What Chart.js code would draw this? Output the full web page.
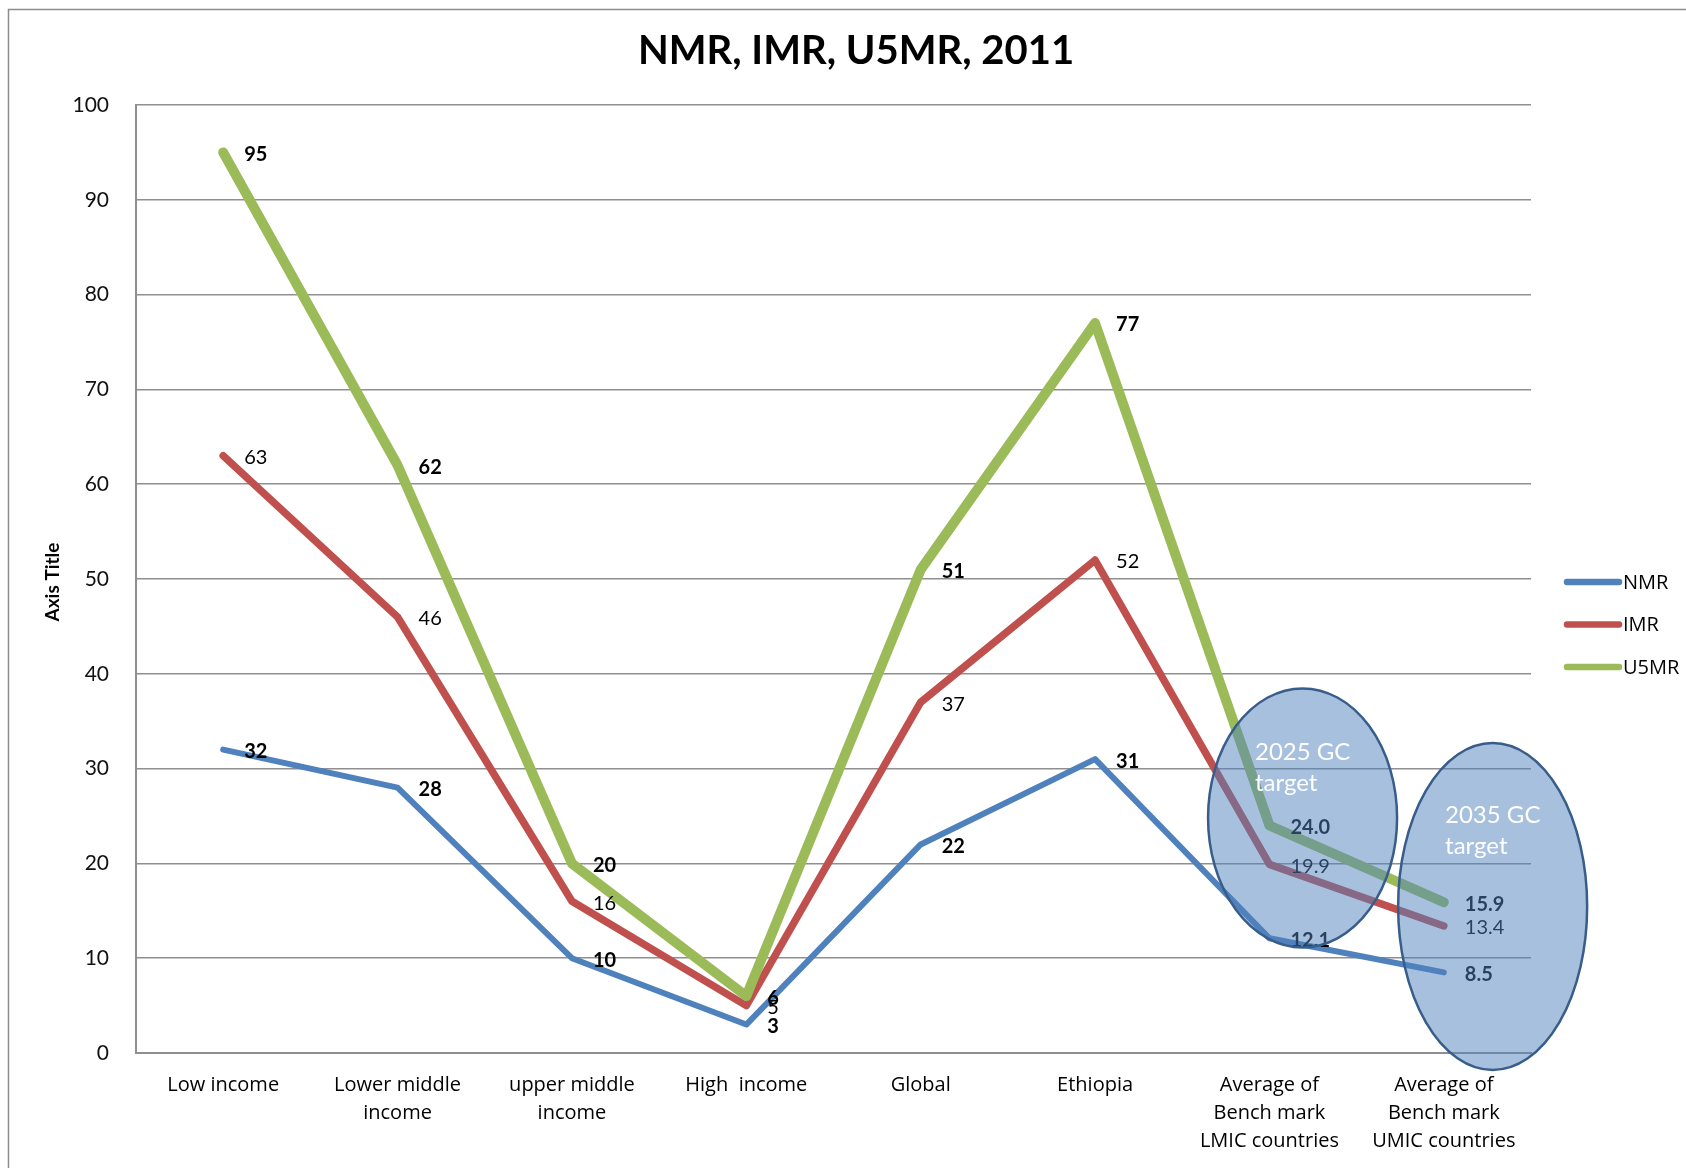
<!DOCTYPE html>
<html>
<head>
<meta charset="utf-8">
<title>NMR, IMR, U5MR, 2011</title>
<script src="https://cdn.jsdelivr.net/npm/chart.js@4.4.1/dist/chart.umd.min.js"></script>
<style>
    html, body { margin: 0; padding: 0; background: #fff; }
    #wrap { width: 1686px; height: 1168px; }
</style>
</head>
<body>
<div id="wrap"><canvas id="mortalityChart" width="1686" height="1168"></canvas></div>
<script>
// Categorías del eje X
const categories = [
    'Low income',
    ['Lower middle', 'income'],
    ['upper middle', 'income'],
    'High  income',
    'Global',
    'Ethiopia',
    ['Average of', 'Bench mark', 'LMIC countries'],
    ['Average of', 'Bench mark', 'UMIC countries']
];

// Series
const nmrData = [32, 28, 10, 3, 22, 31, 12.1, 8.5];
const imrData = [63, 46, 16, 5, 37, 52, 19.9, 13.4];
const u5mrData = [95, 62, 20, 6, 51, 77, 24.0, 15.9];

// Decimales de las etiquetas por categoría
const labelDecimals = [0, 0, 0, 0, 0, 0, 1, 1];

// Eje Y
const yMin = 0;
const yMax = 100;
const yStep = 10;

// Metas (elipses), en unidades de los ejes
const targetNotes = [
    { text: ['2025 GC', 'target'], cx: 6.19, cy: 24.8, rx: 0.542, ry: 13.66, tx: 5.917, ty: 31.75 },
    { text: ['2035 GC', 'target'], cx: 7.28, cy: 15.45, rx: 0.542, ry: 17.25, tx: 7.007, ty: 25.1 }
];

const gridColor = '#8f8f8f';

// Plugin para título, etiquetas, elipses y leyenda
const decoracion = {
    id: 'decoracion',
    beforeDraw(chart) {
        const ctx = chart.ctx;
        ctx.save();
        ctx.strokeStyle = '#8c8c8c';
        ctx.lineWidth = 1.5;
        ctx.strokeRect(8.5, 9.5, 1720, 1200);
        ctx.restore();
    },
    afterDatasetsDraw(chart) {
        const ctx = chart.ctx;
        const xs = chart.scales.x;
        const ys = chart.scales.y;

        // Etiquetas de datos
        chart.data.datasets.forEach((ds, di) => {
            const meta = chart.getDatasetMeta(di);
            ctx.save();
            ctx.font = (ds.labelBold ? 'bold ' : '') + '20px Lato';
            ctx.fillStyle = '#000';
            ctx.textAlign = 'left';
            ctx.textBaseline = 'middle';
            meta.data.forEach((pt, i) => {
                ctx.fillText(ds.data[i].toFixed(labelDecimals[i]), pt.x + 21, pt.y + 2);
            });
            ctx.restore();
        });

        // Elipses de metas
        const catW = xs.getPixelForValue(1) - xs.getPixelForValue(0);
        const unitH = ys.getPixelForValue(0) - ys.getPixelForValue(1);
        targetNotes.forEach(t => {
            ctx.save();
            ctx.beginPath();
            ctx.ellipse(xs.getPixelForValue(t.cx), ys.getPixelForValue(t.cy), t.rx * catW, t.ry * unitH, 0, 0, Math.PI * 2);
            ctx.fillStyle = 'rgba(79, 129, 189, 0.5)';
            ctx.fill();
            ctx.lineWidth = 2.5;
            ctx.strokeStyle = '#385d8a';
            ctx.stroke();
            ctx.font = '24px Lato';
            ctx.fillStyle = '#fff';
            ctx.textAlign = 'left';
            ctx.textBaseline = 'middle';
            t.text.forEach((line, k) => {
                ctx.fillText(line, xs.getPixelForValue(t.tx), ys.getPixelForValue(t.ty) + k * 31);
            });
            ctx.restore();
        });
    },
    afterDraw(chart) {
        const ctx = chart.ctx;
        const area = chart.chartArea;

        // Título
        ctx.save();
        ctx.font = 'bold 40px Lato';
        ctx.fillStyle = '#000';
        ctx.textAlign = 'center';
        ctx.textBaseline = 'middle';
        ctx.fillText('NMR, IMR, U5MR, 2011', 856, 51);
        ctx.restore();

        // Título del eje
        ctx.save();
        ctx.translate(53, 582);
        ctx.rotate(-Math.PI / 2);
        ctx.font = 'bold 19px Lato';
        ctx.fillStyle = '#000';
        ctx.textAlign = 'center';
        ctx.textBaseline = 'middle';
        ctx.fillText('Axis Title', 0, 0);
        ctx.restore();

        // Leyenda
        chart.data.datasets.forEach((ds, i) => {
            const ly = 582 + i * 42.5;
            const lx = area.right + 36;
            ctx.save();
            ctx.strokeStyle = ds.borderColor;
            ctx.lineWidth = 6.5;
            ctx.lineCap = 'round';
            ctx.beginPath();
            ctx.moveTo(lx, ly);
            ctx.lineTo(lx + 52, ly);
            ctx.stroke();
            ctx.font = '20px "Open Sans"';
            ctx.fillStyle = '#000';
            ctx.textAlign = 'left';
            ctx.textBaseline = 'middle';
            ctx.fillText(ds.label, lx + 56, ly + 1);
            ctx.restore();
        });
    }
};

const mortalityChart = new Chart(document.getElementById('mortalityChart'), {
    type: 'line',
    data: {
        labels: categories,
        datasets: [
            {
                label: 'NMR',
                data: nmrData,
                borderColor: '#4f81bd',
                borderWidth: 6,
                labelBold: true,
                order: 3
            },
            {
                label: 'IMR',
                data: imrData,
                borderColor: '#c0504d',
                borderWidth: 7.5,
                labelBold: false,
                order: 2
            },
            {
                label: 'U5MR',
                data: u5mrData,
                borderColor: '#9bbb59',
                borderWidth: 10,
                labelBold: true,
                order: 1
            }
        ]
    },
    options: {
        responsive: false,
        animation: false,
        events: [],
        elements: {
            line: {
                tension: 0,
                fill: false,
                borderCapStyle: 'round',
                borderJoinStyle: 'round'
            },
            point: {
                radius: 0
            }
        },
        layout: {
            padding: { top: 105, right: 155, bottom: 0, left: 0 }
        },
        plugins: {
            legend: { display: false },
            title: { display: false },
            tooltip: { enabled: false }
        },
        scales: {
            x: {
                offset: true,
                grid: { display: false, drawTicks: false },
                border: { display: true, color: gridColor, width: 2 },
                ticks: {
                    color: '#000',
                    padding: 18,
                    maxRotation: 0,
                    autoSkip: false,
                    font: { family: '"Open Sans"', size: 20, lineHeight: 1.4 }
                },
                afterFit(scale) { scale.height = 115; }
            },
            y: {
                min: yMin,
                max: yMax,
                grid: { color: gridColor, lineWidth: 1.5, drawTicks: false },
                border: { display: true, color: gridColor, width: 2 },
                ticks: {
                    stepSize: yStep,
                    color: '#111',
                    padding: 27,
                    font: { family: 'Lato', size: 21 }
                },
                afterFit(scale) { scale.width = 136; }
            }
        }
    },
    plugins: [decoracion]
});
</script>
</body>
</html>
